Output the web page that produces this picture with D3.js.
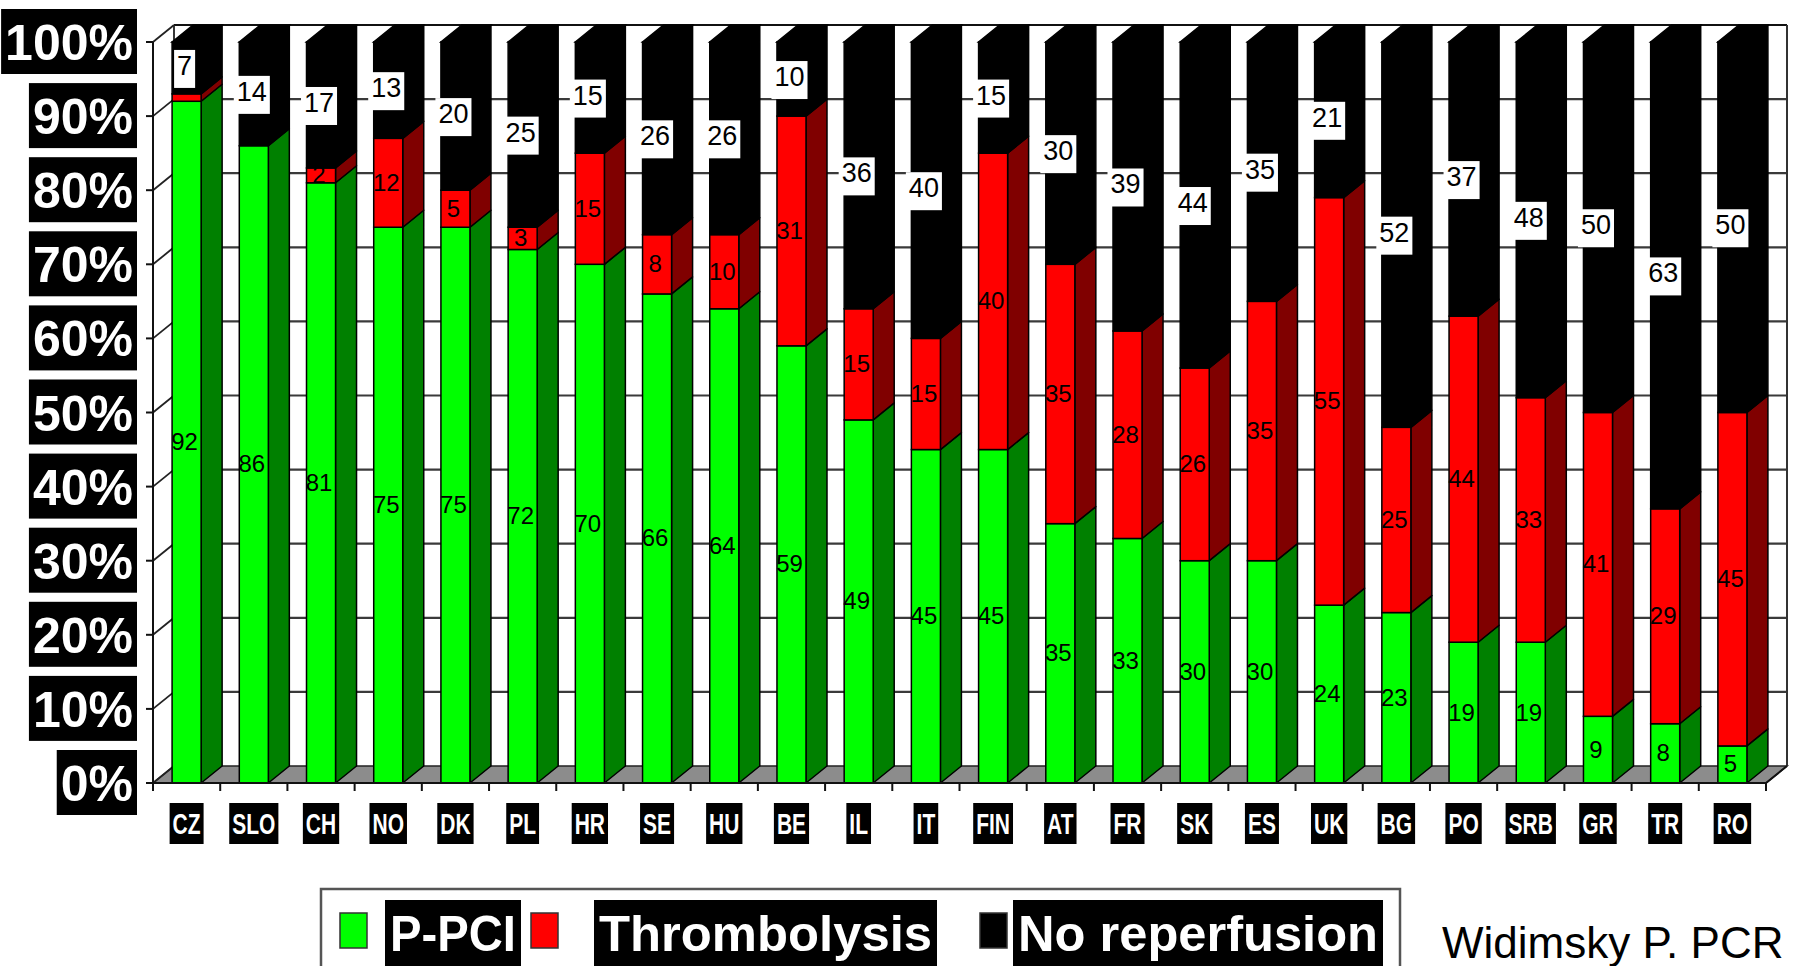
<!DOCTYPE html>
<html>
<head>
<meta charset="utf-8">
<script src="https://cdn.jsdelivr.net/npm/d3@7"></script>
<style>
  html, body { margin: 0; padding: 0; background: #fff; overflow: hidden; }
  svg { display: block; font-family: "Liberation Sans", Arial, sans-serif; }
</style>
</head>
<body>
<svg id="chart" width="1796" height="966"></svg>
<script>
// Reperfusion strategy in STEMI by country (percent of patients)
const categories = ["CZ","SLO","CH","NO","DK","PL","HR","SE","HU","BE","IL","IT",
                    "FIN","AT","FR","SK","ES","UK","BG","PO","SRB","GR","TR","RO"];
const pPCI          = [92,86,81,75,75,72,70,66,64,59,49,45,45,35,33,30,30,24,23,19,19, 9, 8, 5];
const thrombolysis  = [ 1, 0, 2,12, 5, 3,15, 8,10,31,15,15,40,35,28,26,35,55,25,44,33,41,29,45];
const noReperfusion = [ 7,14,17,13,20,25,15,26,26,10,36,40,15,30,39,44,35,21,52,37,48,50,63,50];
const seriesNames = ["P-PCI", "Thrombolysis", "No reperfusion"];
const yTicks = [0,10,20,30,40,50,60,70,80,90,100];

const frontColors = ["#00ff00", "#ff0000", "#000000"];
const sideColors  = ["#008000", "#800000", "#000000"];

const svg = d3.select("#chart");

// plot geometry: front plane plus an oblique depth offset
const x0 = 153, x1 = 1766, yBottom = 783, yTop = 42;
const DX = 21, DY = -17;

const rows = categories.map((c, i) => ({
  cat: c, "P-PCI": pPCI[i], "Thrombolysis": thrombolysis[i], "No reperfusion": noReperfusion[i]
}));
const stacked = d3.stack().keys(seriesNames)(rows);

const x = d3.scaleBand().domain(categories).range([x0, x1])
  .paddingInner(0.568).paddingOuter(0.284);
const slot = d3.scaleBand().domain(categories).range([x0, x1]).padding(0);
const y = d3.scaleLinear().domain([0, 100]).range([yBottom, yTop]);
const bw = x.bandwidth();

// ---- walls and floor ----
const walls = svg.append("g");
walls.append("polygon")
  .attr("points", [[x0, y(0)], [x1, y(0)], [x1 + DX, y(0) + DY], [x0 + DX, y(0) + DY]].join(" "))
  .attr("fill", "#8c8c8c").attr("stroke", "#222").attr("stroke-width", 1.5);
walls.selectAll("line.grid").data(yTicks.filter(d => d > 0)).join("line")
  .attr("class", "grid")
  .attr("x1", x0 + DX).attr("x2", x1 + DX)
  .attr("y1", d => y(d) + DY).attr("y2", d => y(d) + DY)
  .attr("stroke", d => d === 100 ? "#111" : "#3a3a3a").attr("stroke-width", 2.2);
walls.selectAll("line.side").data(yTicks).join("line")
  .attr("class", "side")
  .attr("x1", x0).attr("x2", x0 + DX)
  .attr("y1", d => y(d)).attr("y2", d => y(d) + DY)
  .attr("stroke", "#222").attr("stroke-width", 1.8);
walls.append("line").attr("x1", x0 + DX).attr("x2", x0 + DX)
  .attr("y1", y(100) + DY).attr("y2", y(0) + DY).attr("stroke", "#222").attr("stroke-width", 1.8);
walls.append("line").attr("x1", x1 + DX).attr("x2", x1 + DX)
  .attr("y1", y(100) + DY).attr("y2", y(0) + DY).attr("stroke", "#333").attr("stroke-width", 2);

// ---- 3D stacked columns ----
const bars = svg.append("g");
stacked.forEach((layer, si) => {
  layer.forEach(seg => {
    const v0 = seg[0], v1 = seg[1];
    if (v1 - v0 <= 0) return;
    const bx = x(seg.data.cat);
    const yt = y(v1), yb = y(v0);
    bars.append("polygon")
      .attr("points", [[bx + bw, yt], [bx + bw + DX, yt + DY], [bx + bw + DX, yb + DY], [bx + bw, yb]].join(" "))
      .attr("fill", sideColors[si]).attr("stroke", "#000").attr("stroke-width", 1.5)
      .attr("stroke-linejoin", "round");
    bars.append("rect")
      .attr("x", bx).attr("y", yt).attr("width", bw).attr("height", yb - yt)
      .attr("fill", frontColors[si]).attr("stroke", "#000").attr("stroke-width", 1.5);
    if (v1 >= 100) {
      bars.append("polygon")
        .attr("points", [[bx, yt], [bx + bw, yt], [bx + bw + DX, yt + DY], [bx + DX, yt + DY]].join(" "))
        .attr("fill", sideColors[si]).attr("stroke", "#000").attr("stroke-width", 1.5);
    }
  });
});

// ---- axes on the front plane ----
const axes = svg.append("g");
axes.append("line").attr("x1", x0).attr("x2", x0).attr("y1", y(100)).attr("y2", y(0))
  .attr("stroke", "#111").attr("stroke-width", 2);
axes.selectAll("line.ytick").data(yTicks).join("line")
  .attr("class", "ytick")
  .attr("x1", x0 - 7).attr("x2", x0).attr("y1", d => y(d)).attr("y2", d => y(d))
  .attr("stroke", "#111").attr("stroke-width", 2);
axes.append("line").attr("x1", x0).attr("x2", x1).attr("y1", y(0)).attr("y2", y(0))
  .attr("stroke", "#111").attr("stroke-width", 2);
axes.append("line").attr("x1", x1).attr("x2", x1 + DX).attr("y1", y(0)).attr("y2", y(0) + DY)
  .attr("stroke", "#111").attr("stroke-width", 2);
const xTickPos = categories.map(c => slot(c)).concat([x1]);
axes.selectAll("line.xtick").data(xTickPos).join("line")
  .attr("class", "xtick")
  .attr("x1", d => d).attr("x2", d => d).attr("y1", y(0)).attr("y2", y(0) + 8)
  .attr("stroke", "#111").attr("stroke-width", 2);

// y tick labels: white bold on black boxes
const yLab = svg.append("g");
yTicks.forEach(t => {
  const g = yLab.append("g");
  const txt = g.append("text")
    .attr("x", 133).attr("y", y(t) + 18)
    .attr("text-anchor", "end").attr("font-size", 50).attr("font-weight", "bold")
    .attr("fill", "#fff").text(t + "%");
  const w = txt.node().getComputedTextLength();
  g.insert("rect", "text")
    .attr("x", 137 - w - 8).attr("y", y(t) - 33).attr("width", w + 8).attr("height", 65)
    .attr("fill", "#000");
});

// x tick labels: condensed white bold on black boxes
const xLab = svg.append("g");
categories.forEach(c => {
  const cx = x(c) + bw / 2;
  const g = xLab.append("g");
  const txt = g.append("text")
    .attr("transform", `translate(${cx},834) scale(0.7,1)`)
    .attr("text-anchor", "middle").attr("font-size", 30).attr("font-weight", "bold")
    .attr("fill", "#fff").text(c);
  const w = txt.node().getComputedTextLength() * 0.7;
  g.insert("rect", "text")
    .attr("x", cx - w / 2 - 3).attr("y", 803).attr("width", w + 6).attr("height", 41)
    .attr("fill", "#000");
});

// ---- data labels ----
const labels = svg.append("g");
stacked.forEach((layer, si) => {
  layer.forEach(seg => {
    const v = seg[1] - seg[0];
    if (v < 2) return;
    const cx = x(seg.data.cat) + bw / 2 - 2;
    const cy = y((seg[0] + seg[1]) / 2);
    if (si === 2) {
      const g = labels.append("g");
      const txt = g.append("text")
        .attr("x", cx).attr("y", cy + 7)
        .attr("text-anchor", "middle").attr("font-size", 27).attr("fill", "#000")
        .text(v);
      const w = txt.node().getComputedTextLength();
      g.insert("rect", "text")
        .attr("x", cx - w / 2 - 3).attr("y", cy - 18).attr("width", w + 6).attr("height", 38)
        .attr("fill", "#fff");
    } else {
      labels.append("text")
        .attr("x", cx).attr("y", cy + 8)
        .attr("text-anchor", "middle").attr("font-size", 24).attr("fill", "#000")
        .text(v);
    }
  });
});

// ---- legend ----
const legend = svg.append("g");
legend.append("rect")
  .attr("x", 321).attr("y", 889).attr("width", 1079).attr("height", 100)
  .attr("fill", "#fff").attr("stroke", "#555").attr("stroke-width", 2.5);
const legendItems = [
  { sw: 340, box: 385, boxW: 136 },
  { sw: 531, box: 594, boxW: 343 },
  { sw: 980, box: 1013, boxW: 370 }
];
seriesNames.forEach((name, i) => {
  const it = legendItems[i];
  legend.append("rect")
    .attr("x", it.sw).attr("y", 913).attr("width", 27).attr("height", 35)
    .attr("fill", frontColors[i]).attr("stroke", "#333").attr("stroke-width", 1.5);
  legend.append("rect")
    .attr("x", it.box).attr("y", 900).attr("width", it.boxW).attr("height", 70)
    .attr("fill", "#000");
  legend.append("text")
    .attr("x", it.box + 5).attr("y", 951)
    .attr("font-size", 50).attr("font-weight", "bold").attr("fill", "#fff")
    .attr("textLength", it.boxW - 10).attr("lengthAdjust", "spacingAndGlyphs")
    .text(name);
});

// source note
svg.append("text")
  .attr("x", 1442).attr("y", 958)
  .attr("font-size", 44).attr("fill", "#000")
  .text("Widimsky P. PCR");
</script>
</body>
</html>
